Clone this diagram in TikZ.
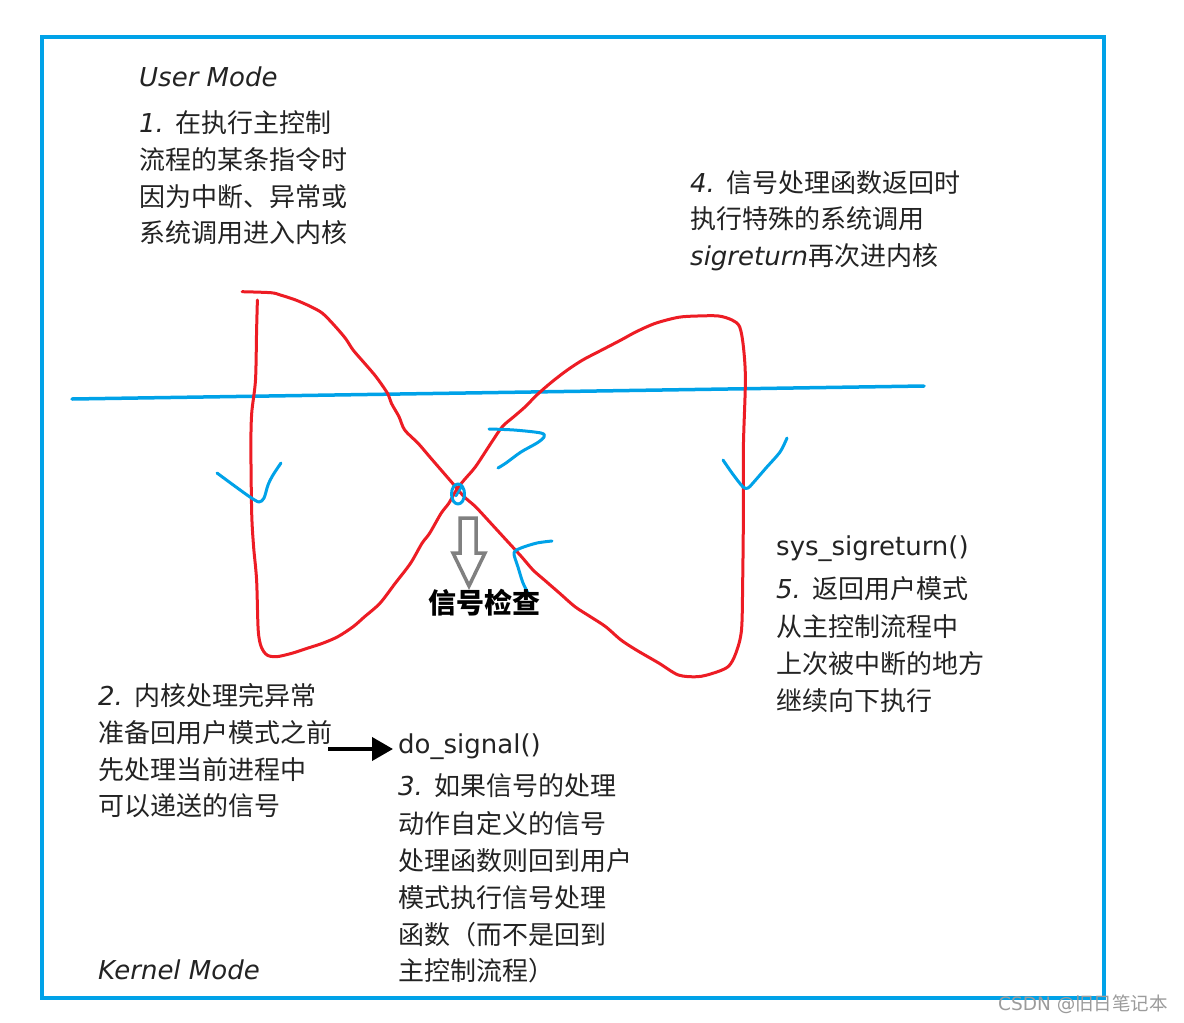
\documentclass[tikz,border=0pt]{standalone}
\usepackage{fontspec}
\setmainfont{DejaVu Sans}
\newfontfamily\cjk{Noto Sans CJK SC}
\usetikzlibrary{arrows.meta}
\definecolor{frameblue}{RGB}{0,162,232}
\definecolor{penred}{RGB}{237,28,36}
\definecolor{txt}{RGB}{35,35,35}
\definecolor{arrgray}{RGB}{128,128,128}
\definecolor{wm}{RGB}{155,155,155}
\tikzset{
  txtline/.style={anchor=base west, inner sep=0pt, text=txt, font=\fontsize{26}{26}\selectfont},
  redpen/.style={draw=penred, line width=3pt, line cap=round, line join=round},
  bluepen/.style={draw=frameblue, line width=3pt, line cap=round, line join=round},
}
\begin{document}
\begin{tikzpicture}[x=1pt,y=-1pt]
\useasboundingbox (0,0) rectangle (1184,1023);
\fill[white] (0,0) rectangle (1184,1023);
% frame
\draw[draw=frameblue, line width=4pt] (42,37) rectangle (1104,998);
% mode separator
\draw[bluepen, line width=3.5pt] (72,399) -- (924,386);
% red bow-tie path
\draw[redpen] plot[smooth, tension=0.5] coordinates {
(242.1,291.7) (270.8,292.7) (280.4,295) (295.7,300) (311,306.7) (322.5,313.3) (334,325) (345.4,338.3)
(353.1,350) (364.6,363.3) (376,376.7) (387.5,393.3) (391.4,403.3) (399,416.7) (404.7,430) (418.1,443.3)
(429.6,456.7) (441.1,470) (452.6,483.3) (464.1,496.7) (475.5,506.7) (490.9,523.3) (506.2,540) (521.5,556.7)
(533,570) (544.4,580) (559.7,593.3) (575,606.7) (590.4,616.7) (605.7,626.7) (621,640) (636.3,650)
(659.2,663.3) (678.4,675) (697.5,676.7) (712.8,673.3) (728.1,666.7) (735.8,653.3) (741.5,630) (742.7,580)
(743.4,513.3) (743.4,446.7) (745.4,380) (743.4,346.7) (739.6,326.7) (732,320) (718.6,316) (697.5,316)
(678.4,317.3) (655.4,323.3) (636.3,331.7) (621,340) (601.8,350) (582.7,360) (567.4,370) (552.1,381.7)
(536.8,395) (525.3,406.7) (513.8,416.7) (502.3,426.7) (490.9,443.3) (475.5,466.7) (464.1,480) (456.4,490)
(448.8,503.3) (441.1,513.3) (429.6,533.3) (422,543.3) (410.5,563.3) (395.2,583.3) (379.9,603.3) (364.6,616.7)
(353.1,626.7) (337.8,636.7) (322.5,643.3) (307.2,648.3) (291.8,653.3) (276.5,656.7) (267,655) (261.2,646.7)
(258.2,630) (256.6,580) (253.6,546.7) (251.7,513.3) (250.9,446.7) (251.7,413.3) (255.5,380) (256.6,330) (257.4,300)};
% blue hand-drawn arrowheads
\draw[bluepen] plot[smooth, tension=0.5] coordinates {(217,473) (236,487) (250,497) (259,502) (264,498) (268,485) (273,475) (281,463)};
\draw[bluepen] plot[smooth, tension=0.5] coordinates {(723,460) (732,473) (743,487) (748,488) (753,483) (766,468) (780,452) (787,438)};
\draw[bluepen] plot[smooth, tension=0.5] coordinates {(489,429) (514,430) (541,433) (544,437) (537,443) (521,452) (506,463) (498,468)};
\draw[bluepen] plot[smooth, tension=0.5] coordinates {(552,541) (537,543) (521,548) (514,553) (518,567) (523,583) (529,595)};
% signal check point
\draw[bluepen] (458,494) ellipse [x radius=6.5pt, y radius=10pt];
\draw[bluepen, line width=2.5pt] (462,486) -- (456,496);
% gray hollow arrow
\draw[draw=arrgray, line width=3.5pt, line join=miter] (460,518) -- (476,518) -- (476,553) -- (485,553) -- (469,586) -- (453,553) -- (460,553) -- cycle;
\node[inner sep=0pt, font=\cjk\bfseries\fontsize{28}{28}\selectfont, text=black] (check) at (484,603) {信号检查};
% texts
\node[txtline] (um) at (139,86) {\itshape User Mode};
\node[txtline] (t1a) at (139,132) {\itshape 1. \upshape\cjk 在执行主控制};
\node[txtline] (t1b) at (139,169) {\cjk 流程的某条指令时};
\node[txtline] (t1c) at (139,206) {\cjk 因为中断、异常或};
\node[txtline] (t1d) at (139,242) {\cjk 系统调用进入内核};

\node[txtline] (t4a) at (690,192) {\itshape 4. \upshape\cjk 信号处理函数返回时};
\node[txtline] (t4b) at (690,228) {\cjk 执行特殊的系统调用};
\node[txtline] (t4c) at (690,265) {\itshape sigreturn\upshape\cjk 再次进内核};

\node[txtline] (t5h) at (776,555) {sys\_sigreturn()};
\node[txtline] (t5a) at (776,598) {\itshape 5. \upshape\cjk 返回用户模式};
\node[txtline] (t5b) at (776,636) {\cjk 从主控制流程中};
\node[txtline] (t5c) at (776,673) {\cjk 上次被中断的地方};
\node[txtline] (t5d) at (776,710) {\cjk 继续向下执行};

\node[txtline] (t2a) at (98,705) {\itshape 2. \upshape\cjk 内核处理完异常};
\node[txtline] (t2b) at (98,742) {\cjk 准备回用户模式之前};
\node[txtline] (t2c) at (98,779) {\cjk 先处理当前进程中};
\node[txtline] (t2d) at (98,815) {\cjk 可以递送的信号};

\node[txtline] (ds) at (398,753) {do\_signal()};
\node[txtline] (t3a) at (398,795) {\itshape 3. \upshape\cjk 如果信号的处理};
\node[txtline] (t3b) at (398,833) {\cjk 动作自定义的信号};
\node[txtline] (t3c) at (398,870) {\cjk 处理函数则回到用户};
\node[txtline] (t3d) at (398,907) {\cjk 模式执行信号处理};
\node[txtline] (t3e) at (398,944) {\cjk 函数（而不是回到};
\node[txtline] (t3f) at (398,980) {\cjk 主控制流程）};

\node[txtline] (km) at (98,979) {\itshape Kernel Mode};

% arrow to do_signal
\coordinate (as) at (328,749);
\draw[line width=4pt, shorten >=5pt, -{Triangle[length=21pt,width=23pt]}] (as) -- (as -| ds.west);

% watermark
\node[anchor=base west, inner sep=0pt, text=wm, font=\fontsize{18.5}{18.5}\selectfont] (wmk) at (998,1010) {CSDN @\cjk 旧日笔记本};
\end{tikzpicture}
\end{document}
